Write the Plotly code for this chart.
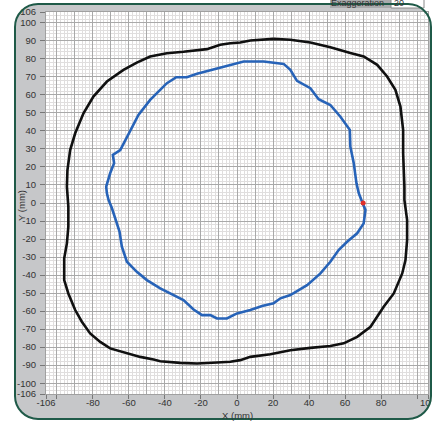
import plotly.graph_objects as go

# ---------------- data ----------------
outer_x = [20.3, 7.4, 1.8, -3.7, -9.3, -16.7, -29.7, -38.9, -48.2, -55.6, -63.0, -72.2, -79.7,
           -85.2, -89.8, -92.6, -94.1, -94.4, -93.6, -93.6, -94.4, -95.9, -95.9, -93.6, -89.8,
           -86.1, -81.5, -75.9, -70.4, -61.1, -53.7, -46.3, -42.6, -31.5, -22.2, -11.1, -3.7,
           1.8, 7.4, 18.5, 29.6, 40.7, 51.8, 59.2, 66.7, 74.1, 81.4, 87.0, 91.7, 93.5, 94.4,
           94.4, 93.5, 92.9, 92.9, 92.2, 92.2, 90.7, 87.9, 83.3, 77.8, 70.3, 62.9, 51.8, 40.7,
           29.6, 20.3]
outer_y = [91.1, 90.2, 89.1, 88.7, 87.8, 85.4, 83.9, 83.1, 81.3, 77.9, 73.9, 67.4, 59.1,
           49.8, 38.7, 29.4, 18.3, 9.1, -2.0, -13.1, -22.4, -30.7, -42.8, -50.2, -59.4,
           -65.9, -72.4, -77.1, -80.7, -83.5, -85.4, -86.9, -87.8, -88.7, -89.1, -88.5, -88.1,
           -87.2, -85.4, -83.9, -81.7, -80.4, -79.4, -77.9, -74.3, -68.7, -57.6, -50.2, -39.1,
           -31.7, -20.6, -9.4, -3.9, 1.7, 9.1, 27.6, 40.6, 53.5, 62.8, 70.2, 76.7, 81.3, 83.2,
           86.5, 89.1, 90.6, 91.1]

inner_x = [69.6, 67.6, 66.3, 64.8, 62.9, 62.6, 57.4, 51.8, 45.3, 40.7, 33.3, 29.6, 25.9, 14.8,
           3.7, -5.6, -13.0, -22.2, -27.8, -33.7, -38.9, -43.6, -48.2, -54.7, -61.1, -64.8,
           -68.9, -68.2, -70.4, -72.6, -72.2, -71.3, -69.4, -67.1, -65.2, -63.9, -61.1, -55.6,
           -50.0, -42.6, -35.2, -29.7, -24.1, -19.4, -14.8, -11.1, -5.6, -1.9, 0.0, 7.4, 13.9,
           20.3, 24.1, 29.6, 38.9, 46.3, 51.8, 56.4, 61.1, 66.7, 70.3, 71.3, 69.6]
inner_y = [0.2, 5.4, 10.9, 22.1, 31.3, 40.6, 47.9, 54.4, 57.6, 63.7, 67.8, 73.9, 77.2, 78.5,
           78.5, 76.1, 74.3, 71.7, 69.8, 69.8, 66.5, 61.8, 57.2, 48.9, 36.8, 29.4,
           26.7, 22.1, 16.5, 9.1, 5.4, 1.7, -2.9, -9.4, -15.9, -24.3, -32.6, -38.2,
           -42.8, -47.4, -51.1, -53.9, -59.1, -62.2, -62.2, -64.1, -64.1, -62.2, -61.3, -59.4, -57.2,
           -55.7, -52.9, -51.1, -45.6, -39.1, -32.6, -26.1, -21.5, -16.8, -11.3, -3.9, 0.2]

start_x = [70.0]
start_y = [0.0]

x_tickvals = [-106, -100, -80, -60, -40, -20, 0, 20, 40, 60, 80, 100, 106]
x_ticktext = ["-106", "", "-80", "-60", "-40", "-20", "0", "20", "40", "60", "80", "", "106"]
y_tickvals = [-106, -100, -90, -80, -70, -60, -50, -40, -30, -20, -10, 0, 10, 20, 30, 40, 50,
              60, 70, 80, 90, 100, 106]
y_ticktext = [str(v) for v in y_tickvals]
axis_range = [-106, 106]

# ---------------- layout geometry ----------------
W, H = 438, 421
ML, MR, MT, MB = 46, 10, 12, 27
PW = W - ML - MR
PH = H - MT - MB
BX0, BY0, BX1, BY1, BR = 15, 4, 431, 419, 23   # rounded panel border (pixels)


def fx(px):
    return (px - ML) / PW


def fy(py):
    return (H - MB - py) / PH


def rounded_rect(x0, y0, x1, y1, r):
    k = 0.5523 * r
    pts = [
        f"M {fx(x0 + r)},{fy(y0)}",
        f"L {fx(x1 - r)},{fy(y0)}",
        f"C {fx(x1 - r + k)},{fy(y0)} {fx(x1)},{fy(y0 + r - k)} {fx(x1)},{fy(y0 + r)}",
        f"L {fx(x1)},{fy(y1 - r)}",
        f"C {fx(x1)},{fy(y1 - r + k)} {fx(x1 - r + k)},{fy(y1)} {fx(x1 - r)},{fy(y1)}",
        f"L {fx(x0 + r)},{fy(y1)}",
        f"C {fx(x0 + r - k)},{fy(y1)} {fx(x0)},{fy(y1 - r + k)} {fx(x0)},{fy(y1 - r)}",
        f"L {fx(x0)},{fy(y0 + r)}",
        f"C {fx(x0)},{fy(y0 + r - k)} {fx(x0 + r - k)},{fy(y0)} {fx(x0 + r)},{fy(y0)}",
        "Z",
    ]
    return " ".join(pts)


def br_corner_outside(x1, y1, r):
    k = 0.5523 * r
    return (f"M {fx(x1 + 0.8)},{fy(y1 - r)} "
            f"C {fx(x1 + 0.8)},{fy(y1 - r + k)} {fx(x1 - r + k)},{fy(y1 + 0.8)} {fx(x1 - r)},{fy(y1 + 0.8)} "
            f"L {fx(x1 - r)},{fy(H + 5)} L {fx(W + 5)},{fy(H + 5)} L {fx(W + 5)},{fy(y1 - r)} Z")


FONT = "Liberation Sans"
TXT = "#333333"
fig = go.Figure()

# curves on the labelled axes
fig.add_trace(go.Scatter(x=outer_x, y=outer_y, mode="lines",
                         line=dict(color="#101010", width=2.6), hoverinfo="skip"))
fig.add_trace(go.Scatter(x=inner_x, y=inner_y, mode="lines",
                         line=dict(color="#2763b8", width=2.6), hoverinfo="skip"))
# start point on the overlaid grid axes (same range), drawn on top
fig.add_trace(go.Scatter(x=start_x, y=start_y, mode="markers", xaxis="x2", yaxis="y2",
                         marker=dict(color="#e0302a", size=5), hoverinfo="skip"))

shapes = [
    dict(type="path", xref="paper", yref="paper", layer="below",
         path=rounded_rect(BX0, BY0, BX1, BY1, BR),
         fillcolor="#c6c7c9", line=dict(width=0)),
    dict(type="rect", xref="x", yref="y", layer="below",
         x0=axis_range[0], x1=axis_range[1], y0=axis_range[0], y1=axis_range[1],
         fillcolor="white", line=dict(width=0)),
    dict(type="rect", xref="paper", yref="paper", layer="above",
         x0=fx(330), x1=fx(391), y0=fy(8), y1=fy(-4),
         fillcolor="#a9aaac", line=dict(width=0)),
    dict(type="rect", xref="paper", yref="paper", layer="above",
         x0=fx(391), x1=fx(424), y0=fy(8), y1=fy(-4),
         fillcolor="white", line=dict(color="#8a8a8a", width=1)),
    # white outside the bottom-right rounded corner (clips the last tick label)
    dict(type="path", xref="paper", yref="paper", layer="above",
         path=br_corner_outside(BX1, BY1, BR), fillcolor="white", line=dict(width=0)),
    # panel border on top
    dict(type="path", xref="paper", yref="paper", layer="above",
         path=rounded_rect(BX0, BY0, BX1, BY1, BR),
         fillcolor="rgba(0,0,0,0)", line=dict(color="#1f5a48", width=2)),
]

annotations = [
    dict(text="Exaggeration", xref="paper", yref="paper", x=fx(357), y=fy(2.5),
         showarrow=False, font=dict(family=FONT, size=9, color=TXT),
         xanchor="center", yanchor="middle"),
    dict(text="20", xref="paper", yref="paper", x=fx(399), y=fy(2.5),
         showarrow=False, font=dict(family=FONT, size=9, color=TXT),
         xanchor="center", yanchor="middle"),
    dict(text="X (mm)", xref="paper", yref="paper", x=fx(237), y=fy(415),
         showarrow=False, font=dict(family=FONT, size=9.5, color=TXT),
         xanchor="center", yanchor="middle"),
    dict(text="Y (mm)", xref="paper", yref="paper", x=fx(21), y=fy(206),
         showarrow=False, textangle=-90, font=dict(family=FONT, size=9.5, color=TXT),
         xanchor="center", yanchor="middle"),
]

tickfont = dict(family=FONT, size=9.5, color=TXT)

fig.update_layout(
    width=W, height=H,
    margin=dict(l=ML, r=MR, t=MT, b=MB, pad=0, autoexpand=False),
    paper_bgcolor="white",
    plot_bgcolor="white",
    showlegend=False,
    shapes=shapes,
    annotations=annotations,
    xaxis=dict(range=axis_range, tickmode="array", tickvals=x_tickvals, ticktext=x_ticktext,
               showgrid=False, zeroline=False, ticks="outside", ticklen=4, tickcolor="#777777",
               tickfont=tickfont, showline=True, linecolor="#a0a0a0", mirror=True,
               ticklabelstandoff=-4, automargin=False),
    yaxis=dict(range=axis_range, tickmode="array", tickvals=y_tickvals, ticktext=y_ticktext,
               showgrid=False, zeroline=False, ticks="outside", ticklen=5, tickcolor="#777777",
               tickfont=tickfont, showline=True, linecolor="#a0a0a0", mirror=True,
               ticklabelstandoff=2, automargin=False),
    xaxis2=dict(range=axis_range, overlaying="x", anchor="y2", side="bottom",
                tickmode="linear", tick0=0, dtick=10, showticklabels=False, ticks="",
                showgrid=True, gridcolor="#a9a9a9", gridwidth=1, zeroline=False,
                automargin=False,
                minor=dict(dtick=2, tick0=0, showgrid=True, gridcolor="#e0dede", gridwidth=1)),
    yaxis2=dict(range=axis_range, overlaying="y", anchor="x2", side="left",
                tickmode="linear", tick0=0, dtick=10, showticklabels=False, ticks="",
                showgrid=True, gridcolor="#a9a9a9", gridwidth=1, zeroline=False,
                automargin=False,
                minor=dict(dtick=2, tick0=0, showgrid=True, gridcolor="#e0dede", gridwidth=1)),
)

fig.write_html("out.html", config={"displayModeBar": False},
               post_script="document.body.style.margin='0';")
